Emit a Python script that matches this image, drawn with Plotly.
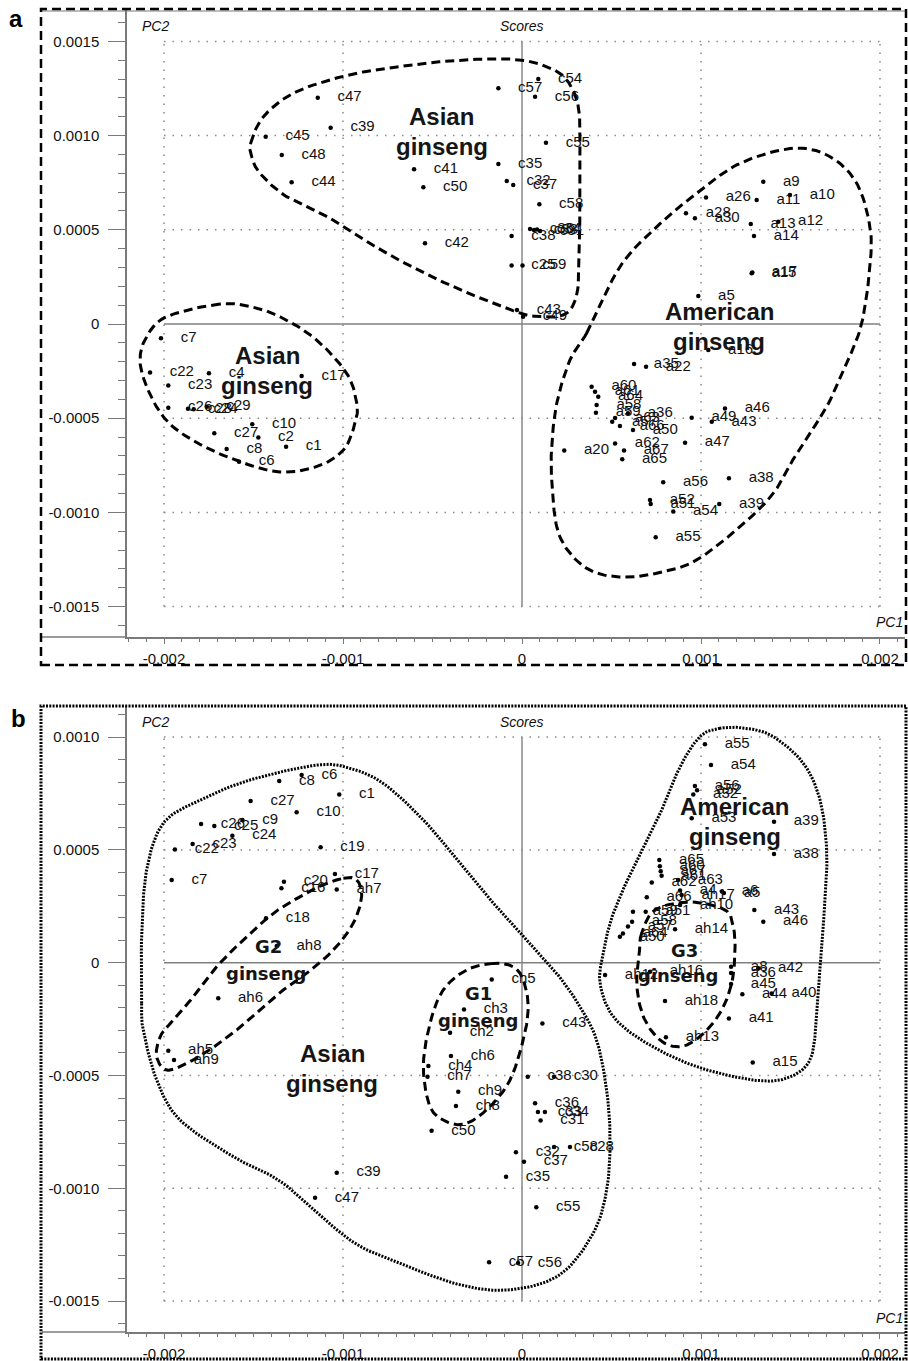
import numpy as np
import plotly.graph_objects as go

W, H = 908, 1361
U = 1e-3  # all score values below are listed in units of 1e-3

# ---------------- Panel a : scores (PC1, PC2) ----------------
pa_asian_top_lab = ["c47","c39","c45","c48","c44","c41","c50","c42","c57","c54","c56","c55","c35",
                    "c32","c37","c58","c38","c36","c33","c34","c31","c25","c59","c43","c49"]
pa_asian_top_x = [-1.141,-1.069,-1.432,-1.342,-1.287,-0.603,-0.551,-0.542,-0.132,0.091,0.073,0.134,-0.132,
                  -0.085,-0.049,0.097,-0.058,0.045,0.067,0.084,0.101,-0.058,0.003,-0.028,0.006]
pa_asian_top_y = [1.201,1.042,0.994,0.897,0.752,0.821,0.726,0.428,1.251,1.300,1.206,0.962,0.849,
                  0.759,0.738,0.635,0.467,0.504,0.499,0.502,0.494,0.310,0.310,0.074,0.039]

pa_asian_left_lab = ["c7","c22","c4","c23","c17","c26","c28","c24","c29","c10","c27","c2","c1","c8","c6"]
pa_asian_left_x = [-2.017,-2.078,-1.749,-1.976,-1.231,-1.976,-1.866,-1.834,-1.761,-1.507,-1.719,-1.473,-1.318,-1.650,-1.581]
pa_asian_left_y = [-0.076,-0.258,-0.262,-0.327,-0.276,-0.444,-0.450,-0.453,-0.439,-0.532,-0.580,-0.603,-0.651,-0.663,-0.731]

pa_american_lab = ["a9","a26","a11","a10","a28","a30","a13","a12","a14","a15",
                   "a17","a5","a16","a35","a22","a60","a61","a64","a58","a59",
                   "a57","a63","a66","a36","a50","a49","a46","a43","a47","a20",
                   "a62","a67","a65","a56","a38","a52","a51","a54","a39","a55"]
pa_american_x = [1.348,1.028,1.311,1.497,0.916,0.966,1.278,1.432,1.296,1.283,
                 1.287,0.985,1.041,0.626,0.693,0.389,0.408,0.426,0.417,0.413,
                 0.504,0.520,0.547,0.592,0.620,0.948,1.134,1.060,0.911,0.236,
                 0.520,0.570,0.560,0.789,1.156,0.715,0.719,0.845,1.102,0.747]
pa_american_y = [0.755,0.672,0.658,0.685,0.588,0.561,0.531,0.543,0.467,0.269,
                 0.274,0.149,-0.138,-0.212,-0.227,-0.333,-0.359,-0.386,-0.430,-0.471,
                 -0.519,-0.499,-0.541,-0.474,-0.563,-0.497,-0.448,-0.519,-0.630,-0.672,
                 -0.634,-0.672,-0.718,-0.840,-0.819,-0.934,-0.955,-0.995,-0.955,-1.132]

# ---------------- Panel b : scores (PC1, PC2) ----------------
pb_asian_lab = ["c8","c6","c1","c27","c10","c9","c26","c25","c24","c22","c23","c19","c7","c17","c20",
                "c16","c18","c39","c47","c50","c43","c38","c30","c36","c33","c34","c31","c58","c28",
                "c32","c37","c35","c55","c57","c56"]
pb_asian_x = [-1.356,-1.231,-1.021,-1.516,-1.259,-1.562,-1.793,-1.719,-1.618,-1.939,-1.840,-1.125,-1.957,-1.045,-1.330,
              -1.344,-1.430,-1.035,-1.156,-0.505,0.114,0.032,0.179,0.073,0.089,0.128,0.104,0.179,0.268,
              -0.034,0.011,-0.089,0.080,-0.184,-0.022]
pb_asian_y = [0.805,0.832,0.746,0.717,0.667,0.633,0.615,0.606,0.563,0.502,0.526,0.512,0.367,0.393,0.359,
              0.330,0.197,-0.931,-1.042,-0.745,-0.269,-0.505,-0.505,-0.623,-0.662,-0.662,-0.700,-0.817,-0.817,
              -0.840,-0.882,-0.949,-1.084,-1.328,-1.331]

pb_g2_lab = ["ah7","ah8","ah6","ah5","ah9"]
pb_g2_x = [-1.035,-1.370,-1.697,-1.976,-1.944]
pb_g2_y = [0.325,0.074,-0.158,-0.390,-0.431]

pb_g1_lab = ["ch5","ch3","ch2","ch6","ch4","ch7","ch9","ch8"]
pb_g1_x = [-0.169,-0.324,-0.402,-0.397,-0.523,-0.528,-0.356,-0.369]
pb_g1_y = [-0.074,-0.207,-0.310,-0.414,-0.458,-0.505,-0.572,-0.635]

pb_american_lab = ["a55","a54","a56","a52","a32","a53","a39","a38","a65","a60",
                   "a67","a61","a62","a63","a66","a4","ah17","ah10","a6","a5",
                   "a43","a46","ah14","a59","a51","a58","a57","a64","a50","ah12",
                   "ah16","ah18","ah13","a41","a15","a8","a36","a45","a44","a42","a40"]
pb_american_x = [1.022,1.056,0.966,0.978,0.957,0.948,1.408,1.408,0.767,0.770,
                 0.775,0.780,0.725,0.872,0.697,0.883,0.892,0.883,1.117,1.128,
                 1.298,1.348,0.855,0.620,0.691,0.615,0.592,0.564,0.547,0.464,
                 0.715,0.799,0.804,1.156,1.289,1.168,1.168,1.168,1.231,1.320,1.395]
pb_american_y = [0.968,0.876,0.783,0.764,0.746,0.640,0.625,0.482,0.455,0.428,
                 0.405,0.385,0.355,0.367,0.290,0.320,0.300,0.256,0.316,0.309,
                 0.234,0.182,0.148,0.226,0.226,0.182,0.160,0.130,0.115,-0.054,
                 -0.040,-0.170,-0.331,-0.247,-0.442,-0.018,-0.046,-0.094,-0.140,-0.025,-0.136]

# ---------------- group outlines (control points, 1e-3 units) ----------------
pa_outline_asian_top_x = [-1.516,-1.445,-1.278,-1.007,-0.756,-0.384,-0.049,0.138,0.250,0.315,0.324,0.324,0.320,
                          0.311,0.268,0.194,0.101,-0.011,-0.384,-0.756,-1.054,-1.315,-1.464,-1.510]
pa_outline_asian_top_y = [0.959,1.100,1.225,1.313,1.357,1.398,1.405,1.366,1.295,1.153,0.924,0.658,0.393,
                          0.180,0.074,0.039,0.042,0.058,0.198,0.375,0.552,0.676,0.800,0.888]
pa_outline_asian_left_x = [-1.687,-1.985,-2.097,-2.134,-2.097,-2.004,-1.873,-1.650,-1.370,-1.147,-0.998,-0.933,
                           -0.923,-0.979,-1.147,-1.334,-1.501]
pa_outline_asian_left_y = [0.106,0.039,-0.067,-0.191,-0.333,-0.492,-0.598,-0.704,-0.784,-0.757,-0.669,-0.527,
                           -0.421,-0.262,-0.085,0.030,0.089]
pa_outline_american_x = [0.361,0.547,0.753,0.976,1.218,1.516,1.721,1.870,1.944,1.944,1.898,1.814,1.702,1.535,
                         1.404,1.218,0.976,0.789,0.585,0.398,0.268,0.194,0.166,0.166,0.194,0.268]
pa_outline_american_y = [-0.049,0.304,0.516,0.694,0.853,0.933,0.888,0.747,0.516,0.304,0.004,-0.209,-0.439,-0.686,
                         -0.899,-1.076,-1.253,-1.315,-1.344,-1.315,-1.217,-1.076,-0.828,-0.651,-0.421,-0.191]

pb_outline_asian_x = [-2.125,-2.125,-2.097,-2.004,-1.799,-1.520,-1.147,-0.961,-0.775,-0.551,-0.346,-0.151,0.026,
                      0.194,0.324,0.417,0.473,0.492,0.473,0.398,0.212,-0.067,-0.346,-0.682,-0.961,-1.334,-1.613,
                      -1.911,-2.041,-2.116]
pb_outline_asian_y = [-0.180,0.115,0.411,0.618,0.721,0.810,0.876,0.862,0.795,0.633,0.441,0.256,0.101,
                      -0.047,-0.195,-0.343,-0.564,-0.786,-1.008,-1.199,-1.383,-1.450,-1.428,-1.332,-1.229,-0.978,-0.860,
                      -0.697,-0.520,-0.298]
pb_outline_g2_x = [-0.998,-0.923,-0.896,-0.942,-1.054,-1.203,-1.334,-1.501,-1.706,-1.873,-1.985,-2.041,-2.022,
                   -1.948,-1.836,-1.706,-1.557,-1.389,-1.240,-1.128]
pb_outline_g2_y = [0.374,0.367,0.293,0.175,0.056,-0.047,-0.121,-0.239,-0.365,-0.446,-0.476,-0.417,-0.328,
                   -0.254,-0.151,-0.018,0.101,0.219,0.293,0.340]
pb_outline_g1_x = [-0.160,-0.309,-0.440,-0.514,-0.551,-0.514,-0.421,-0.309,-0.179,-0.067,0.007,0.035,0.007,-0.049]
pb_outline_g1_y = [-0.003,-0.032,-0.121,-0.269,-0.461,-0.638,-0.705,-0.712,-0.638,-0.520,-0.343,-0.195,-0.077,-0.018]
pb_outline_american_x = [1.106,0.994,0.883,0.789,0.641,0.510,0.454,0.436,0.510,0.697,0.976,1.292,1.479,1.609,
                         1.646,1.665,1.693,1.702,1.665,1.572,1.404,1.255]
pb_outline_american_y = [1.039,1.002,0.869,0.691,0.455,0.219,0.042,-0.091,-0.239,-0.357,-0.461,-0.520,-0.512,-0.431,
                         -0.239,-0.018,0.278,0.500,0.722,0.884,1.002,1.039]
pb_outline_g3_x = [0.669,0.659,0.641,0.678,0.771,0.883,0.994,1.106,1.172,1.190,1.180,1.134,0.939,0.743]
pb_outline_g3_y = [0.132,0.071,-0.091,-0.239,-0.343,-0.372,-0.328,-0.224,-0.091,0.056,0.160,0.234,0.269,0.234]

# ---------------- group names ----------------
pa_group_text = ["Asian", "ginseng", "Asian", "ginseng", "American", "ginseng"]
pa_group_x = [-0.449, -0.449, -1.422, -1.422, 1.101, 1.101]
pa_group_y = [1.100, 0.941, -0.165, -0.324, 0.065, -0.094]
pa_group_small = [False] * 6

pb_group_text = ["Asian", "ginseng", "American", "ginseng", "G2", "ginseng", "G1", "ginseng", "G3", "ginseng"]
pb_group_x = [-1.059, -1.059, 1.187, 1.190, -1.419, -1.425, -0.244, -0.244, 0.906, 0.873]
pb_group_y = [-0.402, -0.535, 0.691, 0.559, 0.071, -0.047, -0.136, -0.254, 0.056, -0.055]
pb_group_small = [False, False, False, False, True, True, True, True, True, True]

# ---------------- axis ticks ----------------
x_tickvals = [-0.002, -0.001, 0, 0.001, 0.002]
x_ticktext = ["-0.002", "-0.001", "0", "0.001", "0.002"]
ya_tickvals = [-0.0015, -0.001, -0.0005, 0, 0.0005, 0.001, 0.0015]
ya_ticktext = ["-0.0015", "-0.0010", "-0.0005", "0", "0.0005", "0.0010", "0.0015"]
yb_tickvals = [-0.0015, -0.001, -0.0005, 0, 0.0005, 0.001]
yb_ticktext = ["-0.0015", "-0.0010", "-0.0005", "0", "0.0005", "0.0010"]


def closed_spline(xs, ys, n=14):
    P = np.column_stack([np.asarray(xs, float), np.asarray(ys, float)])
    m = len(P)
    t = np.linspace(0, 1, n, endpoint=False)[:, None]
    segs = []
    for i in range(m):
        p0, p1, p2, p3 = P[(i - 1) % m], P[i], P[(i + 1) % m], P[(i + 2) % m]
        segs.append(0.5 * (2 * p1 + (-p0 + p2) * t + (2 * p0 - 5 * p1 + 4 * p2 - p3) * t ** 2
                           + (-p0 + 3 * p1 - 3 * p2 + p3) * t ** 3))
    segs.append(P[:1])
    out = np.vstack(segs)
    return out[:, 0], out[:, 1]


def px2px(v):  # pixel x -> paper
    return v / W


def py2py(v):  # pixel y -> paper
    return 1 - v / H


LABEL_FONT = dict(family="Liberation Sans, Arial, sans-serif", size=15, color="#111111")
TICK_FONT = dict(family="Liberation Sans, Arial, sans-serif", size=15, color="#111111")
AX_COLOR = "#7a7a7a"

fig = go.Figure()

panels = [
    dict(xa="x", ya="y",
         groups=[(pa_asian_top_lab, pa_asian_top_x, pa_asian_top_y),
                 (pa_asian_left_lab, pa_asian_left_x, pa_asian_left_y),
                 (pa_american_lab, pa_american_x, pa_american_y)],
         outlines=[(pa_outline_asian_top_x, pa_outline_asian_top_y, "dash"),
                   (pa_outline_asian_left_x, pa_outline_asian_left_y, "dash"),
                   (pa_outline_american_x, pa_outline_american_y, "dash")]),
    dict(xa="x2", ya="y2",
         groups=[(pb_asian_lab, pb_asian_x, pb_asian_y),
                 (pb_g2_lab, pb_g2_x, pb_g2_y),
                 (pb_g1_lab, pb_g1_x, pb_g1_y),
                 (pb_american_lab, pb_american_x, pb_american_y)],
         outlines=[(pb_outline_asian_x, pb_outline_asian_y, "dot"),
                   (pb_outline_g2_x, pb_outline_g2_y, "dash"),
                   (pb_outline_g1_x, pb_outline_g1_y, "dash"),
                   (pb_outline_american_x, pb_outline_american_y, "dot"),
                   (pb_outline_g3_x, pb_outline_g3_y, "dash")]),
]

for p in panels:
    for ox, oy, style in p["outlines"]:
        sx, sy = closed_spline(ox, oy)
        if style == "dash":
            line = dict(color="black", width=3, dash="9px,5px")
        else:
            line = dict(color="black", width=3, dash="2px,1.3px")
        fig.add_trace(go.Scatter(x=sx * U, y=sy * U, mode="lines", line=line,
                                 xaxis=p["xa"], yaxis=p["ya"], hoverinfo="skip", showlegend=False))
    for lab, gx, gy in p["groups"]:
        fig.add_trace(go.Scatter(x=np.array(gx) * U, y=np.array(gy) * U, mode="markers",
                                 marker=dict(size=4.5, color="black"),
                                 xaxis=p["xa"], yaxis=p["ya"], hoverinfo="skip", showlegend=False))
        fig.add_trace(go.Scatter(x=np.array(gx) * U, y=np.array(gy) * U, mode="markers+text",
                                 text=lab, textposition="middle right", textfont=LABEL_FONT,
                                 marker=dict(size=30, color="rgba(0,0,0,0)", line=dict(width=0)),
                                 cliponaxis=False,
                                 xaxis=p["xa"], yaxis=p["ya"], hoverinfo="skip", showlegend=False))

# ----- layout / axes -----
XR = [-2.2067e-3, 2.1397e-3]
dom_x = [127 / W, 905 / W]
common_x = dict(range=XR, domain=dom_x, showline=True, linecolor=AX_COLOR, linewidth=1.5,
                ticks="outside", ticklen=5, tickcolor=AX_COLOR, tickwidth=1.2,
                tickvals=x_tickvals, ticktext=x_ticktext, tickfont=TICK_FONT, ticklabelstandoff=2,
                showgrid=False, zeroline=False, fixedrange=True,
                minor=dict(tickmode="linear", tick0=0, dtick=1e-4, ticks="outside", ticklen=3,
                           tickcolor=AX_COLOR, showgrid=False))
common_y = dict(showline=True, linecolor=AX_COLOR, linewidth=1.5,
                ticks="outside", ticklen=17, tickcolor=AX_COLOR, tickwidth=1.2,
                tickfont=TICK_FONT, ticklabelstandoff=6,
                showgrid=False, zeroline=False, fixedrange=True,
                minor=dict(tickmode="linear", tick0=0, dtick=1e-4, ticks="outside", ticklen=7,
                           tickcolor=AX_COLOR, showgrid=False))

fig.update_layout(
    width=W, height=H, autosize=False,
    margin=dict(l=0, r=0, t=0, b=0),
    paper_bgcolor="white", plot_bgcolor="white",
    showlegend=False,
    xaxis=dict(anchor="y", **common_x),
    yaxis=dict(anchor="x", domain=[1 - 637 / H, 1 - 10 / H], range=[-1.6614e-3, 1.6667e-3],
               tickvals=ya_tickvals, ticktext=ya_ticktext, **common_y),
    xaxis2=dict(anchor="y2", **common_x),
    yaxis2=dict(anchor="x2", domain=[1 - 1332 / H, 1 - 706 / H], range=[-1.637e-3, 1.1379e-3],
                tickvals=yb_tickvals, ticktext=yb_ticktext, **common_y),
)

shapes = []
GRID = dict(color="#8a8a8a", width=1.5, dash="1.5px,7px")
ZERO = dict(color="#808080", width=1.4)
for xa, ya, yv in [("x", "y", ya_tickvals), ("x2", "y2", yb_tickvals)]:
    ylo, yhi = min(yv), max(yv)
    xlo, xhi = min(x_tickvals), max(x_tickvals)
    for xv in x_tickvals:
        shapes.append(dict(type="line", xref=xa, yref=ya, x0=xv, x1=xv, y0=ylo, y1=yhi,
                           line=ZERO if xv == 0 else GRID, layer="below"))
    for v in yv:
        shapes.append(dict(type="line", xref=xa, yref=ya, x0=xlo, x1=xhi, y0=v, y1=v,
                           line=ZERO if v == 0 else GRID, layer="below"))

# bottom axis line extends to the frame on the left
for yb in (637, 1332):
    shapes.append(dict(type="line", xref="paper", yref="paper", x0=px2px(42), x1=px2px(127),
                       y0=py2py(yb), y1=py2py(yb), line=dict(color=AX_COLOR, width=1.5)))
shapes.append(dict(type="line", xref="paper", yref="paper", x0=px2px(42), x1=px2px(906),
                   y0=py2py(11), y1=py2py(11), line=dict(color=AX_COLOR, width=1.2)))
# outer frames
shapes.append(dict(type="rect", xref="paper", yref="paper", x0=px2px(41), x1=px2px(906),
                   y0=py2py(665), y1=py2py(9), line=dict(color="black", width=2.5, dash="9px,5px")))
shapes.append(dict(type="rect", xref="paper", yref="paper", x0=px2px(41), x1=px2px(906),
                   y0=py2py(1359), y1=py2py(706), line=dict(color="black", width=3, dash="2px,1.3px")))
fig.update_layout(shapes=shapes)

ann = []
TITLE_FONT = dict(family="Liberation Sans, Arial, sans-serif", size=14, color="#111111")
for (ytop, ybot) in [(26, 622), (722, 1318)]:
    ann.append(dict(xref="paper", yref="paper", x=px2px(140), y=py2py(ytop), text="<i>PC2</i>",
                    showarrow=False, xanchor="left", yanchor="middle", font=TITLE_FONT))
    ann.append(dict(xref="paper", yref="paper", x=px2px(522), y=py2py(ytop), text="<i>Scores</i>",
                    showarrow=False, xanchor="center", yanchor="middle", font=TITLE_FONT))
    ann.append(dict(xref="paper", yref="paper", x=px2px(905), y=py2py(ybot), text="<i>PC1</i>",
                    showarrow=False, xanchor="right", yanchor="middle", font=TITLE_FONT))
PANEL_FONT = dict(family="Liberation Sans, Arial, sans-serif", size=24, color="black")
ann.append(dict(xref="paper", yref="paper", x=px2px(16), y=py2py(19), text="<b>a</b>",
                showarrow=False, xanchor="center", yanchor="middle", font=PANEL_FONT))
ann.append(dict(xref="paper", yref="paper", x=px2px(18), y=py2py(718), text="<b>b</b>",
                showarrow=False, xanchor="center", yanchor="middle", font=PANEL_FONT))

for xa, ya, texts, gx, gy, gs in [("x", "y", pa_group_text, pa_group_x, pa_group_y, pa_group_small),
                                  ("x2", "y2", pb_group_text, pb_group_x, pb_group_y, pb_group_small)]:
    for t, x, y, s in zip(texts, gx, gy, gs):
        if s:
            f = dict(family="DejaVu Sans, sans-serif", size=18, color="#151515")
        else:
            f = dict(family="Liberation Sans, Arial, sans-serif", size=24, color="#151515")
        ann.append(dict(xref=xa, yref=ya, x=x * U, y=y * U, text=f"<b>{t}</b>",
                        showarrow=False, xanchor="center", yanchor="middle", font=f))
fig.update_layout(annotations=ann)

fig.write_html("out.html")
